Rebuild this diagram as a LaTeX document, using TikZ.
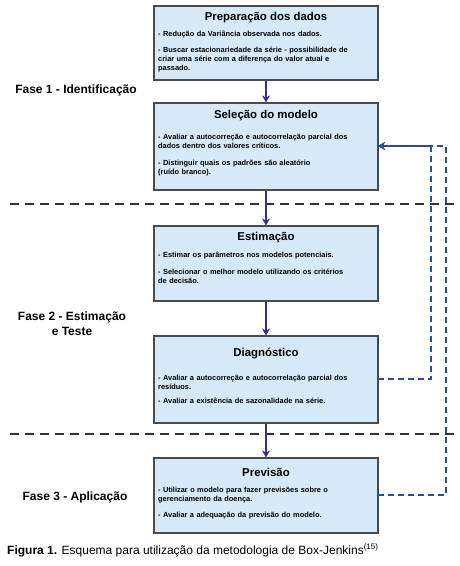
\documentclass[tikz,border=0pt]{standalone}
\usepackage{fontspec}
\setmainfont{Liberation Sans}
\usetikzlibrary{arrows.meta}
\definecolor{boxfill}{HTML}{D6E9F8}
\definecolor{boxdraw}{HTML}{4A4A4A}
\definecolor{arrblue}{HTML}{2E3192}
\definecolor{fbblue}{HTML}{2B4A9A}
\definecolor{sepgray}{HTML}{333333}
\tikzset{
  stepbox/.style={draw=boxdraw, fill=boxfill, line width=1.2pt, inner sep=0pt, minimum width=224pt},
  boxtitle/.style={font=\bfseries\fontsize{11.4}{13}\selectfont, inner sep=0pt, anchor=center},
  bodytext/.style={font=\bfseries\fontsize{7.4}{9}\selectfont, inner sep=0pt, anchor=north west, text width=220pt, align=left},
  phase/.style={font=\bfseries\fontsize{12}{15}\selectfont, inner sep=0pt, align=center},
  flowarrow/.style={draw=arrblue, line width=1.6pt, -{Stealth[length=7pt,width=8pt]}},
  fbarrow/.style={draw=fbblue, line width=1.6pt, dash pattern=on 6pt off 4pt, -{Stealth[length=7pt,width=8pt]}},
  sepline/.style={draw=sepgray, line width=1.4pt, dash pattern=on 9pt off 6pt}
}
\begin{document}
\begin{tikzpicture}[x=1pt,y=-1pt]
\useasboundingbox (0,0) rectangle (460,566);
% boxes
\node[stepbox, minimum height=74pt] (b1) at (266,43) {};
\node[stepbox, minimum height=87pt] (b2) at (266,146.5) {};
\node[stepbox, minimum height=75pt] (b3) at (266,263.5) {};
\node[stepbox, minimum height=87pt] (b4) at (266,379.5) {};
\node[stepbox, minimum height=75pt] (b5) at (266,495.5) {};
% box 1
\node[boxtitle] (t1) at (266,18) {Preparação dos dados};
\node[bodytext] (p1a) at (158,31) {- Redução da Variância observada nos dados.};
\node[bodytext] (p1b) at (158,47) {- Buscar estacionariedade da série - possibilidade de\\criar uma série com a diferença do valor atual e\\passado.};
% box 2
\node[boxtitle] (t2) at (266,116) {Seleção do modelo};
\node[bodytext] (p2a) at (158,134) {- Avaliar a autocorreção e autocorrelação parcial dos\\dados dentro dos valores críticos.};
\node[bodytext] (p2b) at (158,160) {- Distinguir quais os padrões são aleatório\\(ruído branco).};
% box 3
\node[boxtitle] (t3) at (266,238) {Estimação};
\node[bodytext] (p3a) at (158,252) {- Estimar os parâmetros nos modelos potenciais.};
\node[bodytext] (p3b) at (158,269) {- Selecionar o melhor modelo utilizando os critérios\\de decisão.};
% box 4
\node[boxtitle] (t4) at (266,354) {Diagnóstico};
\node[bodytext] (p4a) at (158,375) {- Avaliar a autocorreção e autocorrelação parcial dos\\resíduos.};
\node[bodytext] (p4b) at (158,398) {- Avaliar a existência de sazonalidade na série.};
% box 5
\node[boxtitle] (t5) at (266,472) {Previsão};
\node[bodytext] (p5a) at (158,487) {- Utilizar o modelo para fazer previsões sobre o\\gerenciamento da doença.};
\node[bodytext] (p5b) at (158,512) {- Avaliar a adequação da previsão do modelo.};
% phase labels
\node[phase] (f1) at (76,90) {Fase 1 - Identificação};
\node[phase] (f2) at (72,323.5) {Fase 2 - Estimação\\e Teste};
\node[phase] (f3) at (75,497) {Fase 3 - Aplicação};
% separators
\coordinate (s1a) at (10,204); \coordinate (s1b) at (460,204);
\coordinate (s2a) at (10,434); \coordinate (s2b) at (460,434);
\draw[sepline] (s1a) -- (s1b);
\draw[sepline] (s2a) -- (s2b);
% flow arrows
\draw[flowarrow] (b1) -- (b2);
\draw[flowarrow] (b2) -- (b3);
\draw[flowarrow] (b3) -- (b4);
\draw[flowarrow] (b4) -- (b5);
% feedback
\coordinate (fbin) at (378,146);
\coordinate (d4) at (378,379);
\coordinate (d5) at (378,495);
\draw[fbarrow] (d4) -- (431,379) -- (431,146) -- (fbin);
\draw[fbarrow] (d5) -- (446,495) -- (446,146) -- (fbin);
% caption
\node[inner sep=0pt, anchor=base west, font=\fontsize{12}{14}\selectfont] (cap) at (7,554) {\textbf{Figura 1.} Esquema para utilização da metodologia de Box-Jenkins\textsuperscript{(15)}};
\end{tikzpicture}
\end{document}
